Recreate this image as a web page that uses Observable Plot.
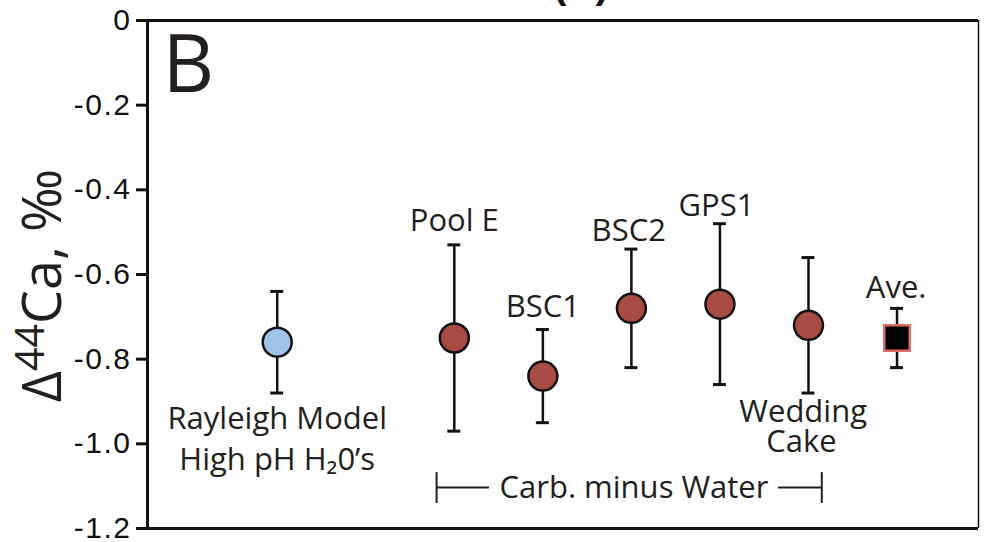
<!DOCTYPE html>
<html>
<head>
<meta charset="utf-8">
<script src="https://cdn.jsdelivr.net/npm/d3@7"></script>
<script src="https://cdn.jsdelivr.net/npm/@observablehq/plot@0.6"></script>
<style>
  html, body { margin: 0; padding: 0; background: white; }
  #chart svg { overflow: visible; display: block; }
</style>
</head>
<body>
<div id="chart"></div>
<script>
// ---- data ----
const names  = ["Rayleigh", "Pool E", "BSC1", "BSC2", "GPS1", "Wedding Cake", "Ave."];
const slots  = [0, 2, 3, 4, 5, 6, 7];
const values = [-0.76, -0.75, -0.84, -0.68, -0.67, -0.72, -0.75];
const upper  = [-0.64, -0.53, -0.73, -0.54, -0.48, -0.56, -0.68];
const lower  = [-0.88, -0.97, -0.95, -0.82, -0.86, -0.88, -0.82];
const kinds  = ["model", "carb", "carb", "carb", "carb", "carb", "ave"];
const yTicks = [0, -0.2, -0.4, -0.6, -0.8, -1.0, -1.2];

// label annotations (data units)
const labelText = ["Rayleigh Model", "High pH H\u20820\u2019s", "Pool E", "BSC1", "BSC2", "GPS1", "Wedding", "Cake", "Ave."];
const labelX    = [0, 0, 2, 3, 3.97, 4.96, 5.94, 5.92, 6.99];
const labelY    = [-0.965, -1.061, -0.497, -0.700, -0.522, -0.461, -0.949, -1.020, -0.655];

// bracket annotation "Carb. minus Water"
const bracketStart = 1.8, bracketEnd = 6.15, bracketY = -1.103;
const bracketTextEnd = 2.397, bracketTextResume = 5.661;
const bracketBarTop = -1.068, bracketBarBottom = -1.141;

const colors = {model: "#9fc3e7", carb: "#a84b45", ave: "#000000"};
const avgStroke = "#dc6c66";
const textColor = "#231f20";
const labelFont = "'Open Sans', 'Noto Sans', sans-serif";
const tickFont = "'Liberation Sans', Arial, sans-serif";

const rows = names.map((n, i) => ({name: n, x: slots[i], v: values[i], hi: upper[i], lo: lower[i], kind: kinds[i]}));
const circles = rows.filter(d => d.kind !== "ave");
const squares = rows.filter(d => d.kind === "ave");
const labels = labelText.map((t, i) => ({t, x: labelX[i], y: labelY[i]}));
const capHalf = 0.073;
const xDomain = [-1.465, 7.92];
const fmt = d => d === 0 ? "0" : d.toFixed(1);

const hasAxisMark = typeof Plot.axisY === "function";

const marks = [
  // frame
  Plot.ruleY([0, -1.2], {strokeWidth: 3}),
  Plot.ruleX([xDomain[0]], {strokeWidth: 3}),
  Plot.ruleX([xDomain[1]], {strokeWidth: 1.5}),
  // y tick labels
  Plot.text(yTicks, {x: xDomain[0], y: d => d, text: fmt, textAnchor: "end", dx: -16, fontSize: 30, fontFamily: tickFont, fill: "#111", className: "ytl"}),
  // error bars
  Plot.ruleX(rows, {x: "x", y1: "lo", y2: "hi", strokeWidth: 2.5, stroke: "#111"}),
  Plot.ruleY(rows, {y: "hi", x1: d => d.x - capHalf, x2: d => d.x + capHalf, strokeWidth: 3, stroke: "#111"}),
  Plot.ruleY(rows, {y: "lo", x1: d => d.x - capHalf, x2: d => d.x + capHalf, strokeWidth: 3, stroke: "#111"}),
  // points
  Plot.dot(circles, {x: "x", y: "v", r: 14.5, fill: d => colors[d.kind], stroke: "#111", strokeWidth: 2.5}),
  Plot.dot(squares, {x: "x", y: "v", r: 14.4, symbol: "square", fill: d => colors[d.kind], stroke: avgStroke, strokeWidth: 2.5}),
  // labels
  Plot.text(labels, {x: "x", y: "y", text: "t", lineAnchor: "bottom", fontSize: 31, fontFamily: labelFont, fill: textColor}),
  // bracket
  Plot.ruleY([bracketY], {x1: bracketStart, x2: bracketTextEnd, strokeWidth: 2, stroke: textColor}),
  Plot.ruleY([bracketY], {x1: bracketTextResume, x2: bracketEnd, strokeWidth: 2, stroke: textColor}),
  Plot.ruleX([bracketStart, bracketEnd], {y1: bracketBarBottom, y2: bracketBarTop, strokeWidth: 2, stroke: textColor}),
  Plot.text(["Carb. minus Water"], {x: (bracketTextEnd + bracketTextResume) / 2, y: -1.127, text: d => d, lineAnchor: "bottom", fontSize: 31, fontFamily: labelFont, fill: textColor}),
  // panel letter
  Plot.text(["B"], {frameAnchor: "top-left", text: d => d, dx: 15, dy: 15, lineAnchor: "top", textAnchor: "start", fontSize: 80, fontFamily: labelFont, fill: textColor}),
  // cut-off title
  Plot.text(["(B)"], {frameAnchor: "top", text: d => d, dx: 18, dy: -23, lineAnchor: "bottom", fontSize: 40, fontWeight: "bold", fontFamily: tickFont, fill: "#111"})
];
if (hasAxisMark) {
  marks.unshift(Plot.axisY(yTicks, {tickFormat: () => "", tickSize: 11, strokeWidth: 3, label: null}));
}

const plot = Plot.plot({
  width: 984,
  height: 542,
  marginLeft: 147,
  marginRight: 6,
  marginTop: 20,
  marginBottom: 14,
  style: {fontFamily: tickFont, fontSize: "30px", background: "white", overflow: "visible", color: "#111"},
  x: {type: "linear", domain: xDomain, axis: null},
  y: Object.assign({domain: [-1.2, 0]}, hasAxisMark ? {axis: null} : {ticks: yTicks, tickFormat: () => "", tickSize: 11, label: null}),
  color: {type: "identity"},
  marks
});
document.getElementById("chart").appendChild(plot);

const svg = d3.select(plot.tagName.toLowerCase() === "svg" ? plot : plot.querySelector("svg"));
svg.selectAll('g[aria-label="y-axis tick"]').attr("stroke-width", 3);
svg.selectAll(".tick line").attr("stroke-width", 3);
svg.selectAll(".ytl text").style("letter-spacing", "1.5px");

// y-axis title with superscript
const t = svg.append("text")
  .attr("transform", "translate(61,285.5) rotate(-90)")
  .attr("text-anchor", "middle")
  .attr("font-family", labelFont)
  .attr("font-size", 54)
  .attr("fill", textColor);
t.append("tspan").text("\u0394");
t.append("tspan").attr("font-size", 41).attr("dy", -17).text("44");
t.append("tspan").attr("dy", 17).text("Ca, \u2030");
</script>
</body>
</html>
